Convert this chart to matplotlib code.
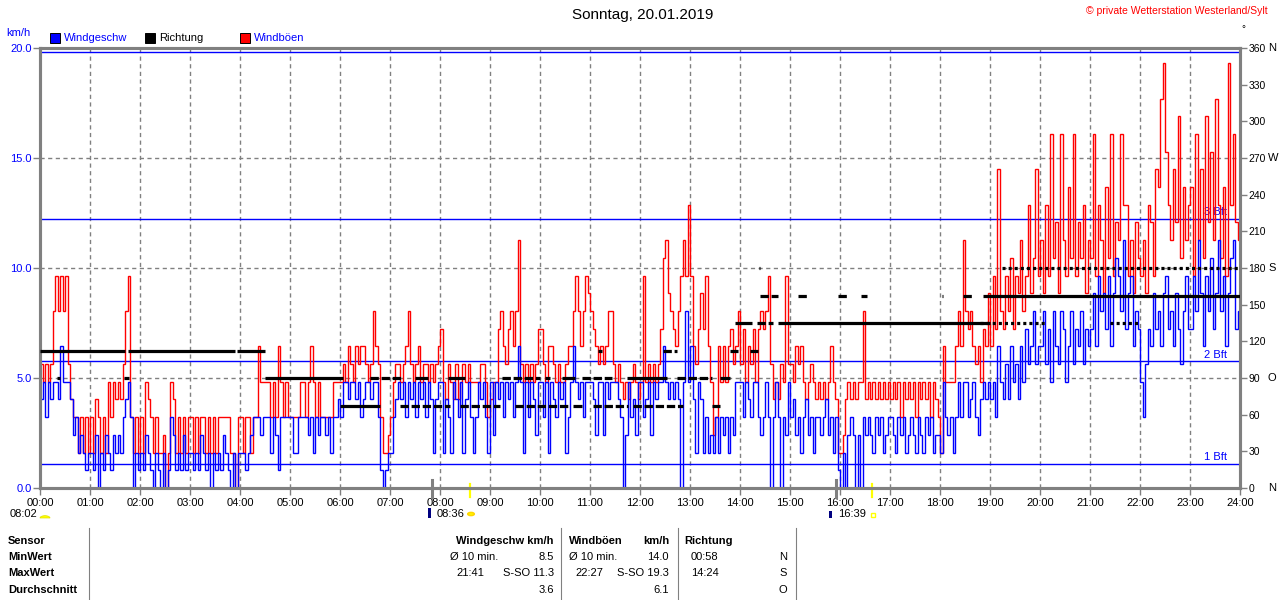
import matplotlib
matplotlib.use("Agg")
import matplotlib.pyplot as plt
import numpy as np
from matplotlib.transforms import blended_transform_factory
from matplotlib.patches import Rectangle, Circle, Wedge
from matplotlib.lines import Line2D

plt.rcParams['font.family'] = ['Liberation Sans', 'DejaVu Sans']
plt.rcParams['lines.scale_dashes'] = False

# ---------------- data ----------------
KMH_PER_STEP = 0.8047          # sensor resolution: 0.5 mph
SAMPLE_MIN = 3                 # one value every 3 minutes

# gusts (Windböen) in sensor steps, one row per hour (00..23)
gust_steps = [
    7,6,7,6,7,10,12,10,12,10,12,7,5,4,4,2,4,2,4,2,
    4,2,5,4,2,4,2,6,4,6,5,6,5,7,10,12,4,2,4,2,
    4,2,6,5,4,2,4,2,2,3,0,2,6,5,2,4,2,4,2,4,
    4,2,4,2,4,4,2,4,2,4,2,4,4,4,4,4,2,2,0,4,
    4,2,4,4,2,4,4,8,6,6,6,6,4,6,4,8,6,4,6,4,
    4,4,4,4,6,6,4,6,8,6,4,6,4,4,4,4,4,6,6,6,
    6,7,6,8,7,6,8,7,8,8,7,6,7,10,8,7,4,2,2,3,
    4,6,7,7,6,7,8,10,7,6,7,8,6,7,7,6,7,6,7,8,
    9,6,5,7,6,5,7,5,6,7,6,7,6,6,6,6,7,7,6,4,
    5,6,6,9,10,8,7,9,10,8,10,14,7,6,7,6,7,6,7,9,
    9,7,6,8,8,7,6,7,6,6,7,8,8,10,12,10,8,10,12,11,
    10,9,8,7,8,7,8,10,10,7,6,7,6,5,6,5,6,7,6,5,
    6,12,6,7,6,7,6,7,9,13,14,11,10,9,8,10,12,14,12,16,
    12,8,7,9,11,9,12,8,6,3,4,8,6,8,6,8,9,7,8,10,
    7,9,6,8,7,9,6,9,10,9,10,12,7,5,6,5,7,6,12,7,
    7,6,8,7,8,6,5,6,7,6,5,6,5,6,5,6,8,6,5,2,
    2,3,5,6,5,6,5,6,6,10,5,6,5,6,5,6,5,6,5,6,
    5,6,5,6,4,6,5,6,5,6,4,6,5,6,5,6,4,6,5,4,
    2,8,6,6,6,6,8,10,8,14,10,9,10,8,7,8,6,9,8,11,
    8,12,9,18,10,9,12,10,13,9,12,11,14,10,12,16,11,13,18,12,
    14,11,16,12,20,13,15,11,20,14,12,17,13,20,12,15,13,16,11,14,
    13,20,12,16,14,11,17,13,20,12,15,14,20,16,16,12,14,11,15,13,
    12,14,11,16,15,12,18,17,22,24,19,16,14,18,15,21,13,17,14,16,
    17,12,20,14,18,13,21,15,19,14,22,16,13,17,12,24,16,20,15,14,
]

# wind speed (Windgeschw) in sensor steps, one row per hour (00..23)
wind_steps = [
    5,6,4,6,5,6,6,5,8,6,6,6,5,3,4,2,3,2,1,2,
    2,1,3,0,2,1,3,2,1,3,2,3,2,4,5,6,4,0,2,1,
    2,1,3,2,1,0,2,1,0,2,0,1,4,3,1,2,1,3,1,2,
    2,1,2,1,3,2,1,2,0,2,1,2,1,3,2,1,0,2,0,2,
    2,2,1,2,3,4,4,4,3,4,4,4,2,4,3,1,4,4,4,4,
    4,2,2,4,4,4,4,3,4,2,4,3,4,4,3,4,2,4,4,5,
    4,6,6,5,6,6,5,6,4,5,6,6,5,6,6,4,1,0,1,2,
    2,4,5,6,5,6,4,6,5,6,4,6,5,6,4,6,5,2,5,6,
    6,2,5,4,2,6,5,4,6,2,5,6,4,2,4,6,5,6,4,2,
    6,3,6,5,6,4,6,5,6,4,6,8,6,2,6,4,6,5,3,6,
    6,4,6,2,6,5,4,6,5,6,2,4,6,8,6,5,6,4,6,6,
    6,5,3,6,6,3,6,5,6,6,6,5,4,0,3,6,4,5,3,6,
    6,4,5,6,3,6,5,6,6,8,6,5,6,5,6,5,0,6,10,6,
    8,5,2,6,5,2,4,2,3,2,4,2,4,3,4,2,4,3,6,6,
    6,4,6,5,4,6,6,4,3,4,6,4,0,4,6,4,0,4,3,6,
    4,5,3,4,2,4,5,3,4,2,4,4,3,4,5,3,4,2,4,1,
    0,2,0,3,4,3,0,3,0,4,3,4,3,2,4,3,4,2,3,4,
    4,3,2,4,3,4,2,3,4,3,2,4,3,2,4,3,4,2,3,3,
    2,6,4,3,4,2,4,6,4,6,6,4,5,6,4,3,5,6,5,6,
    5,6,4,8,6,5,7,5,8,6,7,5,8,6,9,7,8,10,7,8,
    8,10,7,9,6,10,8,7,10,9,6,8,10,7,9,8,10,7,9,8,
    9,11,8,12,10,11,9,12,8,11,13,12,10,14,9,11,12,8,10,9,
    6,4,7,9,8,11,9,10,8,11,12,9,10,8,11,9,7,10,12,9,
    9,12,10,14,11,8,12,10,13,9,11,14,10,12,8,11,13,14,9,10,
]

# wind direction (Richtung): time ranges in which a direction was recorded
dir_start = ["00:00","00:20","01:41","01:46","03:56","04:30","06:00","06:36","07:12","07:30",
             "08:10","08:24","09:14","09:30","10:06","10:26","10:40","10:50","11:04","11:10",
             "11:44","11:52","12:28","12:44","13:26","13:36","13:48","13:54","14:12","14:20",
             "14:23","14:33","14:24","14:46","15:10","15:58","16:25","18:02","18:28","18:48",
             "18:52","19:14","21:24"]
dir_end   = ["01:42","00:24","01:47","03:54","04:30","06:04","06:48","07:16","08:12","07:46",
             "08:30","09:12","10:00","10:36","10:12","10:42","10:50","11:26","11:46","11:14",
             "12:32","12:52","12:44","13:26","13:36","13:48","13:58","14:14","14:22","14:40",
             "14:24","14:34","14:46","19:00","15:22","16:08","16:32","18:04","18:40","20:06",
             "24:00","24:00","21:58"]
dir_deg   = [112.5, 90, 90, 112.5, 112.5, 90, 67.5, 90, 67.5, 90,
             90, 67.5, 90, 67.5, 90, 90, 67.5, 90, 67.5, 112.5,
             90, 67.5, 112.5, 90, 67.5, 90, 112.5, 135, 112.5, 135,
             180, 180, 157.5, 135, 157.5, 157.5, 157.5, 157.5, 157.5, 135,
             157.5, 180, 135]
dir_style = ["s","s","s","s","s","s","s","d","d","s",
             "s","d","d","d","s","s","s","d","d","s",
             "s","d","d","d","s","s","s","s","s","d",
             "s","s","d","s","d","d","s","s","d","o",
             "s","o","o"]

bft_kmh = [1.08, 5.76, 12.24, 19.8]
bft_labels = ["1 Bft", "2 Bft", "3 Bft", ""]

hour_labels = ["%02d:00" % h for h in range(25)]
kmh_ticks = [0, 5, 10, 15, 20]
deg_ticks = list(range(0, 361, 30))
compass = {0: "N", 90: "O", 180: "S", 270: "W", 360: "N"}

twilight_times = ["07:50", "15:55"]
sun_times = ["08:36", "16:39"]

# ---------------- helpers ----------------
def hh(s):
    h, m = s.split(":")
    return int(h) + int(m) / 60.0

W, H = 1280, 600
fig = plt.figure(figsize=(12.8, 6.0), dpi=100)
fig.patch.set_facecolor("white")

def fx(x):
    return x / W

def fy(y):
    return 1 - y / H

def ftext(x, y, s, **kw):
    kw.setdefault("fontsize", 8)
    kw.setdefault("va", "center")
    fig.text(fx(x), fy(y), s, **kw)

L, R, T, B = 40, 1240, 48, 488
ax = fig.add_axes([fx(L), fy(B), (R - L) / W, (B - T) / H])
ax2 = ax.twinx()

GRAY = "#808080"

# ---------------- series ----------------
gust = np.array(gust_steps) * KMH_PER_STEP
wind = np.array(wind_steps) * KMH_PER_STEP
edges = np.arange(len(gust) + 1) * SAMPLE_MIN / 60.0

ax.stairs(gust, edges, baseline=None, color="#ff0000", lw=1.0, zorder=3)
ax.stairs(wind, edges, baseline=None, color="#0000ff", lw=1.0, zorder=4)

styles = {"s": "-", "d": (0, (6, 2)), "o": (0, (2.2, 2.2))}
for s, e, d, st in zip(dir_start, dir_end, dir_deg, dir_style):
    ax2.hlines(d, hh(s), hh(e), colors="black", lw=2.3, linestyles=[styles[st]], zorder=5)

# grid
for h in range(1, 24):
    ax.axvline(h, color=GRAY, lw=1.0, ls=(0, (3, 2.5)), zorder=1)
for v in [5, 10, 15]:
    ax.axhline(v, color=GRAY, lw=1.0, ls=(0, (3, 2.5)), zorder=1)

# Beaufort lines
for v, lab in zip(bft_kmh, bft_labels):
    ax.axhline(v, color="#0000ff", lw=1.0, zorder=2)
    if lab:
        ax.text(23.74, v + 0.08, lab, color="#0000ff", fontsize=8, ha="right", va="bottom", zorder=1.5)

ax.set_xlim(0, 24)
ax.set_ylim(0, 20)
ax2.set_ylim(0, 360)

for a in (ax, ax2):
    for sp in a.spines.values():
        sp.set_color(GRAY)
        sp.set_linewidth(2.2)

ax.set_xticks(range(25))
ax.set_xticklabels(hour_labels, fontsize=8)
ax.tick_params(axis="x", direction="out", length=5, width=1, color=GRAY, pad=2)
ax.set_yticks(kmh_ticks)
ax.set_yticklabels(["%.1f" % v for v in kmh_ticks], fontsize=8, color="#0000ff")
ax.tick_params(axis="y", direction="out", length=5, width=1, color=GRAY, pad=1)

ax2.set_yticks(deg_ticks)
ax2.set_yticklabels([str(d) for d in deg_ticks], fontsize=7.5)
ax2.tick_params(axis="y", direction="out", length=5, width=1, color=GRAY, pad=1)
trans2 = blended_transform_factory(ax2.transAxes, ax2.transData)
for d, c in compass.items():
    ax2.text((1268 - L) / (R - L), d, c, transform=trans2, fontsize=8, va="center", ha="left")

# twilight / sun markers under the axis
transx = blended_transform_factory(ax.transData, ax.transAxes)
for t in twilight_times:
    ax.add_line(Line2D([hh(t), hh(t)], [(B - 480) / (B - T), (B - 497) / (B - T)], transform=transx,
                       color=GRAY, lw=2.2, clip_on=False, zorder=6))
for t in sun_times:
    ax.add_line(Line2D([hh(t), hh(t)], [(B - 484) / (B - T), (B - 497) / (B - T)], transform=transx,
                       color="#ffff00", lw=1.6, clip_on=False, zorder=6))

# ---------------- header texts ----------------
ftext(643, 15, "Sonntag, 20.01.2019", fontsize=11, ha="center")
ftext(1268, 11, "© private Wetterstation Westerland/Sylt", color="#ff0000", ha="right", fontsize=7.5)
ftext(1243, 29, "°", fontsize=7, ha="center")
ftext(6, 33, "km/h", color="#0000ff")

for x0, col, lab, tcol in [(50, "#0000ff", "Windgeschw", "#0000ff"),
                           (145, "#000000", "Richtung", "#000000"),
                           (240, "#ff0000", "Windböen", "#0000ff")]:
    fig.patches.append(Rectangle((fx(x0), fy(43)), 10 / W, 10 / H, transform=fig.transFigure,
                                 facecolor=col, edgecolor="black", lw=0.7))
    ftext(x0 + 14, 38, lab, color=tcol)

# sun / moon icons row
ftext(10, 514, "08:02")
fig.patches.append(Wedge((fx(45), fy(518)), 5 / W, 0, 180, transform=fig.transFigure,
                         facecolor="#ffff00", edgecolor="#e0e000", lw=0.5))
fig.patches.append(Rectangle((fx(428), fy(518)), 3 / W, 10 / H, transform=fig.transFigure,
                             facecolor="#000080", edgecolor="none"))
ftext(437, 514, "08:36")
fig.patches.append(Circle((fx(471), fy(514)), 3.2 / W, transform=fig.transFigure,
                          facecolor="#ffff00", edgecolor="#ffd700", lw=1.2))
fig.patches.append(Rectangle((fx(829), fy(518)), 3 / W, 7 / H, transform=fig.transFigure,
                             facecolor="#000080", edgecolor="none"))
ftext(838, 514, "16:39")
fig.patches.append(Rectangle((fx(871), fy(517)), 4 / W, 4 / H, transform=fig.transFigure,
                             facecolor="none", edgecolor="#ffff00", lw=1))

# ---------------- statistics table ----------------
for x in [89, 561, 678, 796]:
    fig.add_artist(Line2D([fx(x), fx(x)], [fy(528), fy(600)], color=GRAY, lw=0.8))

rows_y = [541, 557, 573, 590]
for y, lab in zip(rows_y, ["Sensor", "MinWert", "MaxWert", "Durchschnitt"]):
    ftext(8, y, lab, fontweight="bold")

ftext(554, rows_y[0], "Windgeschw km/h", fontweight="bold", ha="right")
ftext(450, rows_y[1], "Ø 10 min.")
ftext(554, rows_y[1], "8.5", ha="right")
ftext(456, rows_y[2], "21:41")
ftext(554, rows_y[2], "S-SO 11.3", ha="right")
ftext(554, rows_y[3], "3.6", ha="right")

ftext(569, rows_y[0], "Windböen", fontweight="bold")
ftext(669, rows_y[0], "km/h", fontweight="bold", ha="right")
ftext(569, rows_y[1], "Ø 10 min.")
ftext(669, rows_y[1], "14.0", ha="right")
ftext(575, rows_y[2], "22:27")
ftext(669, rows_y[2], "S-SO 19.3", ha="right")
ftext(669, rows_y[3], "6.1", ha="right")

ftext(684, rows_y[0], "Richtung", fontweight="bold")
ftext(691, rows_y[1], "00:58")
ftext(787, rows_y[1], "N", ha="right")
ftext(691, rows_y[2], "14:24")
ftext(787, rows_y[2], "S", ha="right")
ftext(787, rows_y[3], "O", ha="right")

fig.savefig("out.png", dpi=100)
